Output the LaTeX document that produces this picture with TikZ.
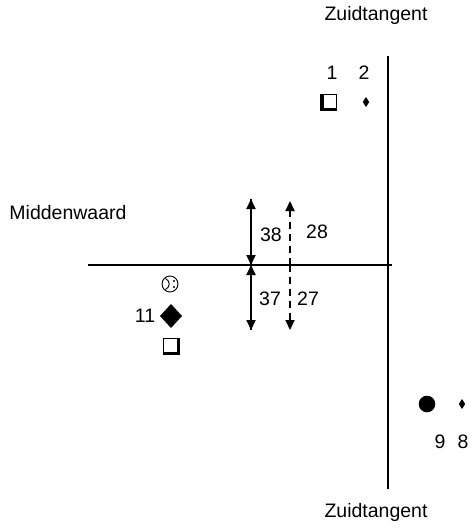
\documentclass[tikz,border=0pt]{standalone}
\usepackage{fontspec}
\setmainfont{Liberation Sans}
\usetikzlibrary{arrows.meta}
\begin{document}
\begin{tikzpicture}[x={(1pt,0)},y={(0,-1pt)},
  lbl/.style={inner sep=0pt,font=\fontsize{19.5}{22}\selectfont},
  axis/.style={line width=1.3pt},
  arr/.style={line width=2pt,-{Triangle[length=10pt,width=9pt]}},
  darr/.style={line width=2pt,dash pattern=on 7pt off 5pt,-{Triangle[length=10pt,width=9pt]}},
  sym/.style={inner sep=0pt,outer sep=0pt}]
\useasboundingbox (0,0) rectangle (473,530);
% axes
\coordinate (vt) at (388,56);
\coordinate (vb) at (388,489);
\coordinate (hl) at (88,265);
\coordinate (hr) at (392,265);
\draw[axis] (vt) -- (vb);
\draw[axis] (hl) -- (hr);
% labels
\node[lbl] (zt) at (376,15) {Zuidtangent};
\node[lbl] (zb) at (376,512) {Zuidtangent};
\node[lbl] (mw) at (68,213) {Middenwaard};
\node[lbl] (n1) at (332,73) {1};
\node[lbl] (n2) at (364,73) {2};
\node[lbl] (n11) at (145,316) {11};
\node[lbl] (n9) at (440,442) {9};
\node[lbl] (n8) at (463,442) {8};
\node[lbl] (n38) at (271,235) {38};
\node[lbl] (n28) at (317,232) {28};
\node[lbl] (n37) at (270,299) {37};
\node[lbl] (n27) at (308,299) {27};
% arrows
\coordinate (a0) at (251,265);
\coordinate (a1) at (251,199);
\coordinate (a2) at (251,330);
\draw[arr] (a0) -- (a1);
\draw[arr] (a1) -- (a0);
\draw[arr] (a0) -- (a2);
\draw[arr] (a2) -- (a0);
\coordinate (d0) at (290,265);
\coordinate (d1) at (290,201);
\coordinate (d2) at (290,330);
\draw[darr] (d0) -- (d1);
\draw[darr] (d0) -- (d2);
% square with shadow lower-left (1)
\node[sym] (sq1) at (329,102) {};
\fill (320,94) rectangle (337,111);
\fill[white] (323.5,95.2) rectangle (335.8,107.5);
% small diamonds
\node[sym] (d2s) at (366,102) {};
\fill (366,97) -- (369.2,102) -- (366,107) -- (362.8,102) -- cycle;
\node[sym] (d8s) at (462,404) {};
\fill (462,399) -- (465.2,404) -- (462,409) -- (458.8,404) -- cycle;
% big circle
\node[sym] (c9) at (427,404) {};
\fill (427,404) circle (8.3);
% face
\node[sym] (face) at (170,284) {};
\draw[line width=0.9pt] (170,284) circle (8);
\draw[line width=0.9pt] (165.5,278.5) .. controls (170.5,281) and (170.5,287) .. (165.5,289.5);
\fill (174,281) circle (1.2);
\fill (174,287) circle (1.2);
% big diamond
\node[sym] (bd) at (171,316) {};
\fill (171,304) -- (182,316) -- (171,328) -- (160,316) -- cycle;
% square with shadow lower-right (below)
\node[sym] (sq2) at (171,346) {};
\fill (163,338) rectangle (180,355);
\fill[white] (164.2,339.2) rectangle (176.5,351.5);
\end{tikzpicture}
\end{document}
